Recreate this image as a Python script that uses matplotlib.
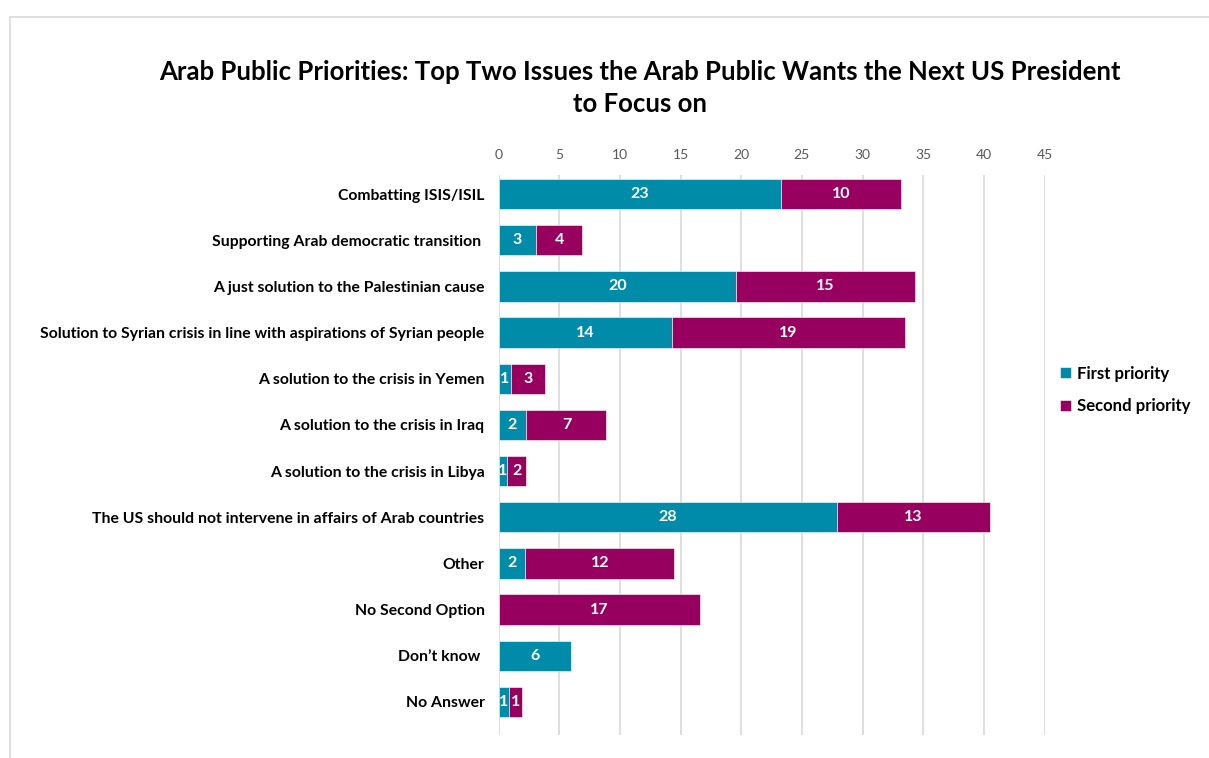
import matplotlib
matplotlib.use("Agg")
import matplotlib.pyplot as plt
from matplotlib.patches import Rectangle
import numpy as np

categories = [
    "Combatting ISIS/ISIL",
    "Supporting Arab democratic transition ",
    "A just solution to the Palestinian cause",
    "Solution to Syrian crisis in line with aspirations of Syrian people",
    "A solution to the crisis in Yemen",
    "A solution to the crisis in Iraq",
    "A solution to the crisis in Libya",
    "The US should not intervene in affairs of Arab countries",
    "Other",
    "No Second Option",
    "Don\u2019t know ",
    "No Answer",
]
first_priority = [23.3, 3.1, 19.6, 14.3, 1.0, 2.3, 0.7, 27.9, 2.2, 0.0, 6.0, 0.9]
second_priority = [9.9, 3.8, 14.7, 19.2, 2.8, 6.6, 1.6, 12.6, 12.3, 16.6, 0.0, 1.0]
ticks = [0, 5, 10, 15, 20, 25, 30, 35, 40, 45]
title = "Arab Public Priorities: Top Two Issues the Arab Public Wants the Next US President\nto Focus on"
series_names = ["First priority", "Second priority"]

TEAL = "#008CA8"
MAG = "#980060"
FONT = "Lato"

fig = plt.figure(figsize=(12.09, 7.58), dpi=100)
fig.patches.append(Rectangle((10/1209, -0.1), 1.5, (758-17)/758 + 0.1, transform=fig.transFigure,
                             fill=False, edgecolor="#D9D9D9", linewidth=1.2))
ax = fig.add_axes([498.5/1209, 1 - 735/758, (1044.5-498.5)/1209, (735-175)/758])

y = np.arange(len(categories))
b1 = ax.barh(y, first_priority, height=0.66, color=TEAL, edgecolor="white", linewidth=0.4)
b2 = ax.barh(y, second_priority, left=first_priority, height=0.66, color=MAG, edgecolor="white", linewidth=0.4)

for bars, vals, lefts in [(b1, first_priority, [0]*len(y)), (b2, second_priority, first_priority)]:
    for i, (v, l) in enumerate(zip(vals, lefts)):
        if v > 0:
            ax.text(l + v/2, y[i], "%d" % int(round(v)), ha="center", va="center",
                    color="white", fontsize=11.5, fontweight="bold", family=FONT)

ax.set_xlim(0, 45)
ax.set_ylim(11.716, -0.413)
ax.set_xticks(ticks)
ax.set_xticklabels([str(t) for t in ticks], family=FONT, fontsize=10, color="#595959")
ax.xaxis.tick_top()
ax.tick_params(axis="x", length=0, pad=10)
ax.set_yticks(y)
ax.set_yticklabels(categories, family=FONT, fontsize=11.3, fontweight="bold", color="black")
ax.tick_params(axis="y", length=0, pad=10)
ax.grid(axis="x", color="#D9D9D9", linewidth=1.2)
ax.set_axisbelow(True)
for s in ax.spines.values():
    s.set_visible(False)

fig.text(640/1209, 1 - 88/758, title, ha="center", va="center", fontsize=18.5,
         fontweight="bold", family=FONT, linespacing=1.4)

leg = fig.legend([b1, b2], series_names, loc="center left", bbox_to_anchor=(1045/1209, 1 - 390/758),
                 frameon=False, prop={"family": FONT, "weight": "bold", "size": 12.1},
                 handlelength=0.65, handleheight=0.65, handletextpad=0.35, labelspacing=1.0)

fig.savefig("out.png", dpi=100, facecolor="white")
